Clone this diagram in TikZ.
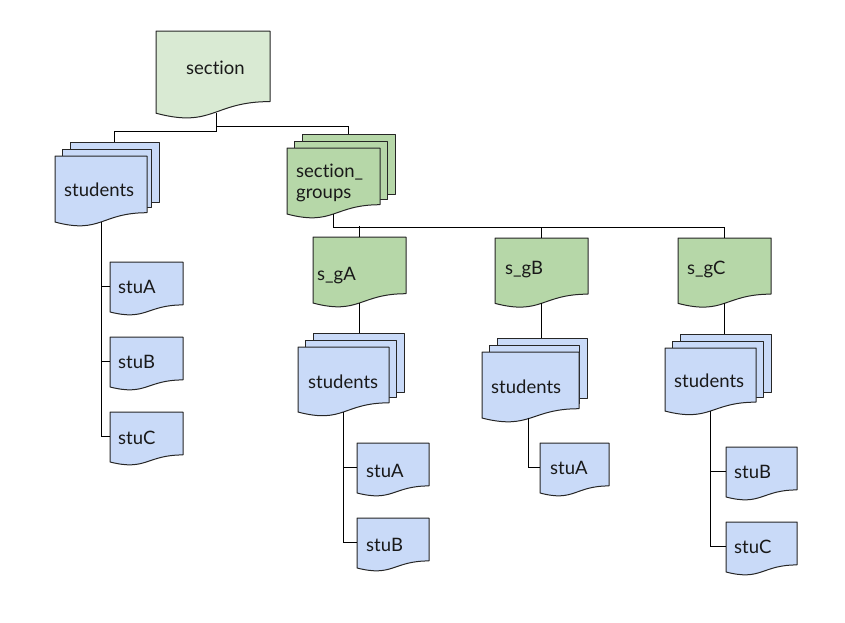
\documentclass[tikz,border=0pt]{standalone}
\usepackage{fontspec}
\setmainfont{Lato}[RawFeature={-liga,-dlig,-clig}]
\usetikzlibrary{calc}
\definecolor{lgreen}{HTML}{D9EAD3}
\definecolor{mgreen}{HTML}{B6D7A8}
\definecolor{lblue}{HTML}{C9DAF8}
\tikzset{
  conn/.style={draw=black, line width=1pt},
  shp/.style={draw=black!85, line width=1pt, line join=round},
  anc/.style={draw=none, inner sep=0pt, outer sep=0pt, anchor=north west},
  lbl/.style={inner sep=0pt, anchor=base west, font=\fontsize{18.5}{21}\selectfont, text=black!90, align=left},
}
% name x0 y0 w H fill
\newcommand\docnode[6]{%
  \pgfmathsetmacro\dxa{#2+#4}\pgfmathsetmacro\dxm{#2+#4/2}%
  \pgfmathsetmacro\dya{#3+0.802*#5}\pgfmathsetmacro\dyb{#3+1.1075*#5}\pgfmathsetmacro\dyc{#3+0.934*#5}%
  \draw[shp, fill=#6] (#2,#3) -- (\dxa,#3) -- (\dxa,\dya) .. controls (\dxm,\dya) and (\dxm,\dyb) .. (#2,\dyc) -- cycle;
  \node[anc, minimum width=#4pt, minimum height={0.93*#5pt}] (#1) at (#2,#3) {};
}
% name x0 y0 w H wback fill
\newcommand\docstack[7]{%
  \pgfmathsetmacro\sxa{#2+15}\pgfmathsetmacro\sxb{#2+15+#6}%
  \pgfmathsetmacro\sya{#3-14}\pgfmathsetmacro\syb{#3+0.802*#5-10}%
  \draw[shp, fill=#7] (\sxa,\sya) rectangle (\sxb,\syb);
  \node[anc, minimum width=#6pt, minimum height={(\syb-\sya)*1pt}] (#1back) at (\sxa,\sya) {};
  \pgfmathsetmacro\sxa{#2+7.5}\pgfmathsetmacro\sxb{#2+7.5+#6}%
  \pgfmathsetmacro\sya{#3-7}\pgfmathsetmacro\syb{#3+0.802*#5-5}%
  \draw[shp, fill=#7] (\sxa,\sya) rectangle (\sxb,\syb);
  \node[anc, minimum width=#6pt, minimum height={(\syb-\sya)*1pt}] (#1mid) at (\sxa,\sya) {};
  \docnode{#1}{#2}{#3}{#4}{#5}{#7}%
}
\begin{document}
\begin{tikzpicture}[x=1pt,y=-1pt]
\useasboundingbox (0,0) rectangle (845,622);
\fill[white] (0,0) rectangle (845,622);

% shapes
\docnode{sec}{156}{31}{114}{88}{lgreen}
\docstack{L}{55}{156}{92}{70.7}{89}{lblue}
\docnode{LstuA}{110}{262}{73}{53.5}{lblue}
\docnode{LstuB}{110}{337}{73}{53.5}{lblue}
\docnode{LstuC}{110}{412}{73}{53.5}{lblue}
\docstack{SG}{287}{148}{93}{70.7}{93}{mgreen}
\docnode{sgA}{313}{237}{93}{70.7}{mgreen}
\docnode{sgB}{495}{238}{93}{70}{mgreen}
\docnode{sgC}{678}{238}{93}{70}{mgreen}
\docstack{A}{298}{347}{91}{69.6}{91}{lblue}
\docstack{B}{482}{352}{97}{70.7}{90}{lblue}
\docstack{C}{665}{348}{91}{67.5}{91}{lblue}
\docnode{AstuA}{357}{443}{72}{53.5}{lblue}
\docnode{AstuB}{357}{518}{72}{53.5}{lblue}
\docnode{BstuA}{540}{443}{69}{53.5}{lblue}
\docnode{CstuB}{726}{447}{71}{53.5}{lblue}
\docnode{CstuC}{726}{522}{71}{53.5}{lblue}

% connectors
\draw[conn] ($(sec.south)+(3,0)$) |- ($(Lback.north)+(0,-11)$) -- (Lback.north);
\draw[conn] ($(sec.south)+(3,0)$) |- ($(SGback.north)+(0,-8)$) -- (SGback.north);
\draw[conn] (SG.south) |- ($(sgC.north)+(0,-11)$) -- (sgC.north);
\draw[conn] ($(sgA.north)+(0,-11)$) -- (sgA.north);
\draw[conn] ($(sgB.north)+(0,-11)$) -- (sgB.north);
\draw[conn] (sgA.south) -- (sgA.south |- Aback.north);
\draw[conn] (sgB.south) -- (sgB.south |- Bback.north);
\draw[conn] (sgC.south) -- (sgC.south |- Cback.north);
\draw[conn] (L.south) |- (LstuC.west);
\draw[conn] (L.south |- LstuA.west) -- (LstuA.west);
\draw[conn] (L.south |- LstuB.west) -- (LstuB.west);
\draw[conn] (A.south) |- (AstuB.west);
\draw[conn] (A.south |- AstuA.west) -- (AstuA.west);
\draw[conn] ($(B.south)+(-2,0)$) |- (BstuA.west);
\draw[conn] (C.south) |- (CstuC.west);
\draw[conn] (C.south |- CstuB.west) -- (CstuB.west);

% labels
\node[lbl] (tsec) at (186,74) {section};
\node[lbl] (tL) at (64,196) {students};
\node[lbl] (tSG) at (296,198) {section\_\\groups};
\node[lbl] (tLA) at (118,293) {stuA};
\node[lbl] (tLB) at (118,368) {stuB};
\node[lbl] (tLC) at (118,444) {stuC};
\node[lbl] (tgA) at (317,280) {s\_gA};
\node[lbl] (tgB) at (505,274) {s\_gB};
\node[lbl] (tgC) at (687,274) {s\_gC};
\node[lbl] (tA) at (308,388) {students};
\node[lbl] (tB) at (491,393) {students};
\node[lbl] (tC) at (674,387) {students};
\node[lbl] (tAA) at (366,477) {stuA};
\node[lbl] (tAB) at (366,551) {stuB};
\node[lbl] (tBA) at (550,474) {stuA};
\node[lbl] (tCB) at (734,478) {stuB};
\node[lbl] (tCC) at (734,553) {stuC};
\end{tikzpicture}
\end{document}
